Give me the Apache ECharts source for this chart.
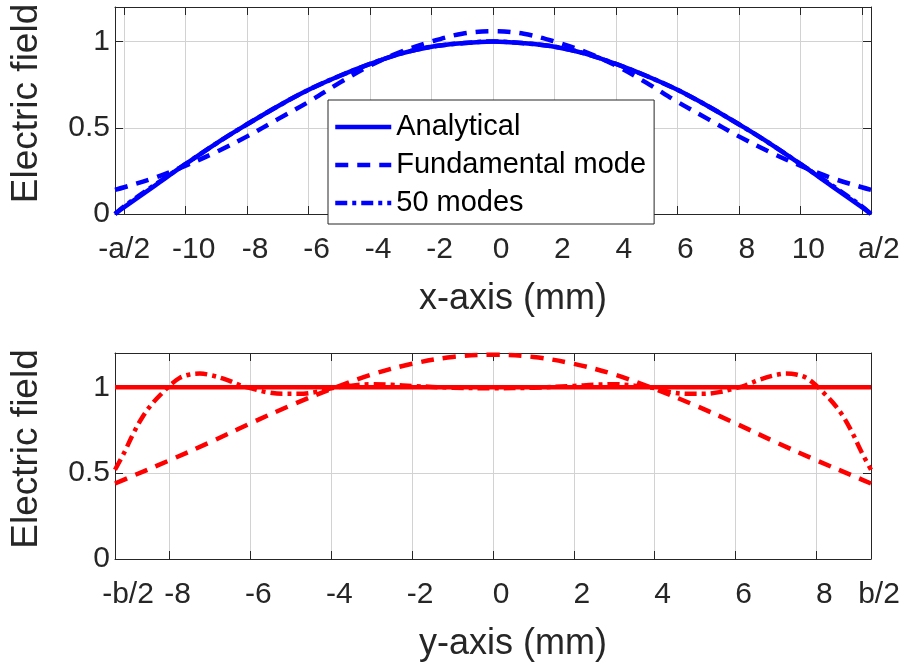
<!DOCTYPE html>
<html>
<head>
<meta charset="utf-8">
<script src="https://cdn.jsdelivr.net/npm/echarts@6/dist/echarts.min.js"></script>
<style>
html,body{margin:0;padding:0;background:#fff;}
#c{width:906px;height:669px;}
</style>
</head>
<body>
<div id="c"></div>
<script>
// ---------- data ----------
const seriesNames = ['Analytical', 'Fundamental mode', '50 modes'];

// top panel: x-axis (mm)
const topX = [-12.3, -12, -11, -10, -9, -8, -7, -6, -5, -4, -3, -2, -1, 0, 1, 2, 3, 4, 5, 6, 7, 8, 9, 10, 11, 12, 12.3];
const topAnalytical = [0, 0.04, 0.165, 0.29, 0.41, 0.52, 0.625, 0.72, 0.80, 0.87, 0.93, 0.97, 0.99, 1.0, 0.99, 0.97, 0.93, 0.87, 0.80, 0.72, 0.625, 0.52, 0.41, 0.29, 0.165, 0.04, 0];
const topFundamental = [0.14, 0.155, 0.21, 0.28, 0.36, 0.45, 0.55, 0.65, 0.76, 0.86, 0.94, 1.0, 1.045, 1.06, 1.045, 1.0, 0.94, 0.86, 0.76, 0.65, 0.55, 0.45, 0.36, 0.28, 0.21, 0.155, 0.14];
const top50 = [0, 0.045, 0.17, 0.29, 0.41, 0.52, 0.625, 0.72, 0.80, 0.87, 0.93, 0.97, 0.99, 1.0, 0.99, 0.97, 0.93, 0.87, 0.80, 0.72, 0.625, 0.52, 0.41, 0.29, 0.17, 0.045, 0];
const topTickValues = [-12, -10, -8, -6, -4, -2, 0, 2, 4, 6, 8, 10, 12];
const topTickLabels = ['-a/2', '-10', '-8', '-6', '-4', '-2', '0', '2', '4', '6', '8', '10', 'a/2'];

// bottom panel: y-axis (mm)
const botX = [-9.35, -9, -8, -7, -6, -5, -4, -3, -2, -1, 0, 1, 2, 3, 4, 5, 6, 7, 8, 9, 9.35];
const botAnalytical = [1, 1, 1, 1, 1, 1, 1, 1, 1, 1, 1, 1, 1, 1, 1, 1, 1, 1, 1, 1, 1];
const botFundamental = [0.44, 0.475, 0.575, 0.68, 0.79, 0.895, 0.99, 1.075, 1.137, 1.177, 1.19, 1.177, 1.137, 1.075, 0.99, 0.895, 0.79, 0.68, 0.575, 0.475, 0.44];
const botX50 = [-9.35, -9.1, -8.9, -8.65, -8.4, -8.15, -8, -7.75, -7.5, -7.25, -7, -6.6, -6.25, -6, -5.6, -5.2, -4.8, -4.4, -4, -3.5, -3, -2.5, -2, -1, 0, 1, 2, 2.5, 3, 3.5, 4, 4.4, 4.8, 5.2, 5.6, 6, 6.25, 6.6, 7, 7.25, 7.5, 7.75, 8, 8.15, 8.4, 8.65, 8.9, 9.1, 9.35];
const bot50 = [0.52, 0.63, 0.73, 0.835, 0.913, 0.975, 1.01, 1.055, 1.075, 1.08, 1.072, 1.045, 1.012, 0.995, 0.972, 0.962, 0.962, 0.972, 0.995, 1.01, 1.018, 1.015, 1.008, 0.998, 0.995, 0.998, 1.008, 1.015, 1.018, 1.01, 0.995, 0.972, 0.962, 0.962, 0.972, 0.995, 1.012, 1.045, 1.072, 1.08, 1.075, 1.055, 1.01, 0.975, 0.913, 0.835, 0.73, 0.63, 0.52];
const botTickValues = [-9.35, -8, -6, -4, -2, 0, 2, 4, 6, 8, 9.35];
const botTickLabels = ['-b/2', '-8', '-6', '-4', '-2', '0', '2', '4', '6', '8', 'b/2'];
const botGridValues = [-8, -6, -4, -2, 0, 2, 4, 6, 8];

const yTickValues = [0, 0.5, 1];
const xNames = ['x-axis (mm)', 'y-axis (mm)'];
const yName = 'Electric field';

// ---------- styling ----------
const FONT = "'Liberation Sans', Arial, Helvetica, sans-serif";
const AX = '#262626';
const GRIDC = '#d2d2d2';
const BLUE = '#0000ff', RED = '#ff0000';
const LW = 4.5;
const dashes = {solid: 'solid', dash: [13, 9], dashdot: [12, 5, 4, 5]};

function pairs(xs, ys) { return xs.map((x, i) => [x, ys[i]]); }

function labelFmt(values, labels, edgeKeys) {
  return function (v) {
    const i = values.findIndex(t => Math.abs(t - v) < 1e-6);
    if (i < 0) return '';
    let key = 'n';
    if (i === 0) key = edgeKeys[0];
    else if (i === values.length - 1) key = edgeKeys[1];
    return '{' + key + '|' + labels[i] + '}';
  };
}
const richBase = (extra) => Object.assign({
  n: {fontSize: 30, fontFamily: FONT, color: AX, padding: [0, 0, 0, 16]}
}, extra);

function mainX(gridIndex, min, max, ticks, labels, gridVals, name, edgeRich, edgeKeys, gap) {
  return {
    type: 'value', gridIndex, position: 'bottom', min, max,
    name, nameLocation: 'middle', nameGap: gap,
    nameTextStyle: {fontSize: 36, fontFamily: FONT, color: AX, padding: [0, 0, 0, 40]},
    axisLine: {show: true, onZero: false, lineStyle: {color: AX, width: 1}},
    axisTick: {show: true, inside: true, length: 8, customValues: gridVals, lineStyle: {color: AX}},
    splitLine: {show: true, lineStyle: {color: GRIDC, width: 1}},
    axisLabel: {
      customValues: ticks, margin: 21, fontSize: 30, fontFamily: FONT, color: AX,
      formatter: labelFmt(ticks, labels, edgeKeys), rich: richBase(edgeRich)
    }
  };
}
function secX(gridIndex, min, max, gridVals) {
  return {
    type: 'value', gridIndex, position: 'top', min, max,
    axisLine: {show: true, onZero: false, lineStyle: {color: AX, width: 1}},
    axisTick: {show: true, inside: true, length: 8, customValues: gridVals, lineStyle: {color: AX}},
    axisLabel: {show: false}, splitLine: {show: false}
  };
}
function mainY(gridIndex) {
  return {
    type: 'value', gridIndex, position: 'left', min: 0, max: 1.2,
    name: yName, nameLocation: 'middle', nameGap: 70,
    nameTextStyle: {fontSize: 37, fontFamily: FONT, color: AX, padding: [0, 0, 0, 14]},
    axisLine: {show: true, onZero: false, lineStyle: {color: AX, width: 1}},
    axisTick: {show: true, inside: true, length: 8, customValues: yTickValues, lineStyle: {color: AX}},
    splitLine: {show: true, lineStyle: {color: GRIDC, width: 1}},
    axisLabel: {customValues: yTickValues, margin: 5, fontSize: 30, fontFamily: FONT, color: AX}
  };
}
function secY(gridIndex) {
  return {
    type: 'value', gridIndex, position: 'right', min: 0, max: 1.2,
    axisLine: {show: true, onZero: false, lineStyle: {color: AX, width: 1}},
    axisTick: {show: true, inside: true, length: 8, customValues: yTickValues, lineStyle: {color: AX}},
    axisLabel: {show: false}, splitLine: {show: false}
  };
}
function line(name, data, color, type, xi, yi, z) {
  return {
    type: 'line', name, data, xAxisIndex: xi, yAxisIndex: yi,
    symbol: 'none', smooth: 0.35, z,
    lineStyle: {color, width: LW, type, cap: 'butt', join: 'round'},
    itemStyle: {color}, animation: false
  };
}

const chart = echarts.init(document.getElementById('c'), null, {renderer: 'canvas'});
chart.setOption({
  backgroundColor: '#ffffff',
  animation: false,
  grid: [
    {left: 114, top: 7, width: 757, height: 207},
    {left: 114, top: 353, width: 757, height: 206}
  ],
  xAxis: [
    mainX(0, -12.3, 12.3, topTickValues, topTickLabels, topTickValues, xNames[0],
      {l: {fontSize: 30, fontFamily: FONT, color: AX, padding: [0, 0, 0, 0]},
       r: {fontSize: 30, fontFamily: FONT, color: AX, padding: [0, 0, 0, 34]}}, ['l', 'r'], 67),
    secX(0, -12.3, 12.3, topTickValues),
    mainX(1, -9.35, 9.35, botTickValues, botTickLabels, botGridValues, xNames[1],
      {l: {fontSize: 30, fontFamily: FONT, color: AX, padding: [0, 0, 0, 26]},
       r: {fontSize: 30, fontFamily: FONT, color: AX, padding: [0, 0, 0, 16]}}, ['l', 'r'], 67),
    secX(1, -9.35, 9.35, botGridValues)
  ],
  yAxis: [mainY(0), secY(0), mainY(1), secY(1)],
  legend: {
    data: seriesNames, orient: 'vertical', left: 328, top: 100,
    itemWidth: 56, itemHeight: 3, itemGap: 8,
    padding: [12, 8, 6, 5],
    backgroundColor: '#ffffff', borderColor: AX, borderWidth: 1, borderRadius: 0,
    selectedMode: false,
    textStyle: {fontSize: 29, fontFamily: FONT, color: '#000', lineHeight: 30},
    lineStyle: {width: LW},
    itemStyle: {opacity: 0}
  },
  series: [
    line(seriesNames[0], pairs(topX, topAnalytical), BLUE, dashes.solid, 0, 0, 2),
    line(seriesNames[1], pairs(topX, topFundamental), BLUE, dashes.dash, 0, 0, 3),
    line(seriesNames[2], pairs(topX, top50), BLUE, dashes.dashdot, 0, 0, 4),
    line(seriesNames[0] + ' ', pairs(botX, botAnalytical), RED, dashes.solid, 2, 2, 2),
    line(seriesNames[1] + ' ', pairs(botX, botFundamental), RED, dashes.dash, 2, 2, 3),
    line(seriesNames[2] + ' ', pairs(botX50, bot50), RED, dashes.dashdot, 2, 2, 4)
  ]
});
</script>
</body>
</html>
